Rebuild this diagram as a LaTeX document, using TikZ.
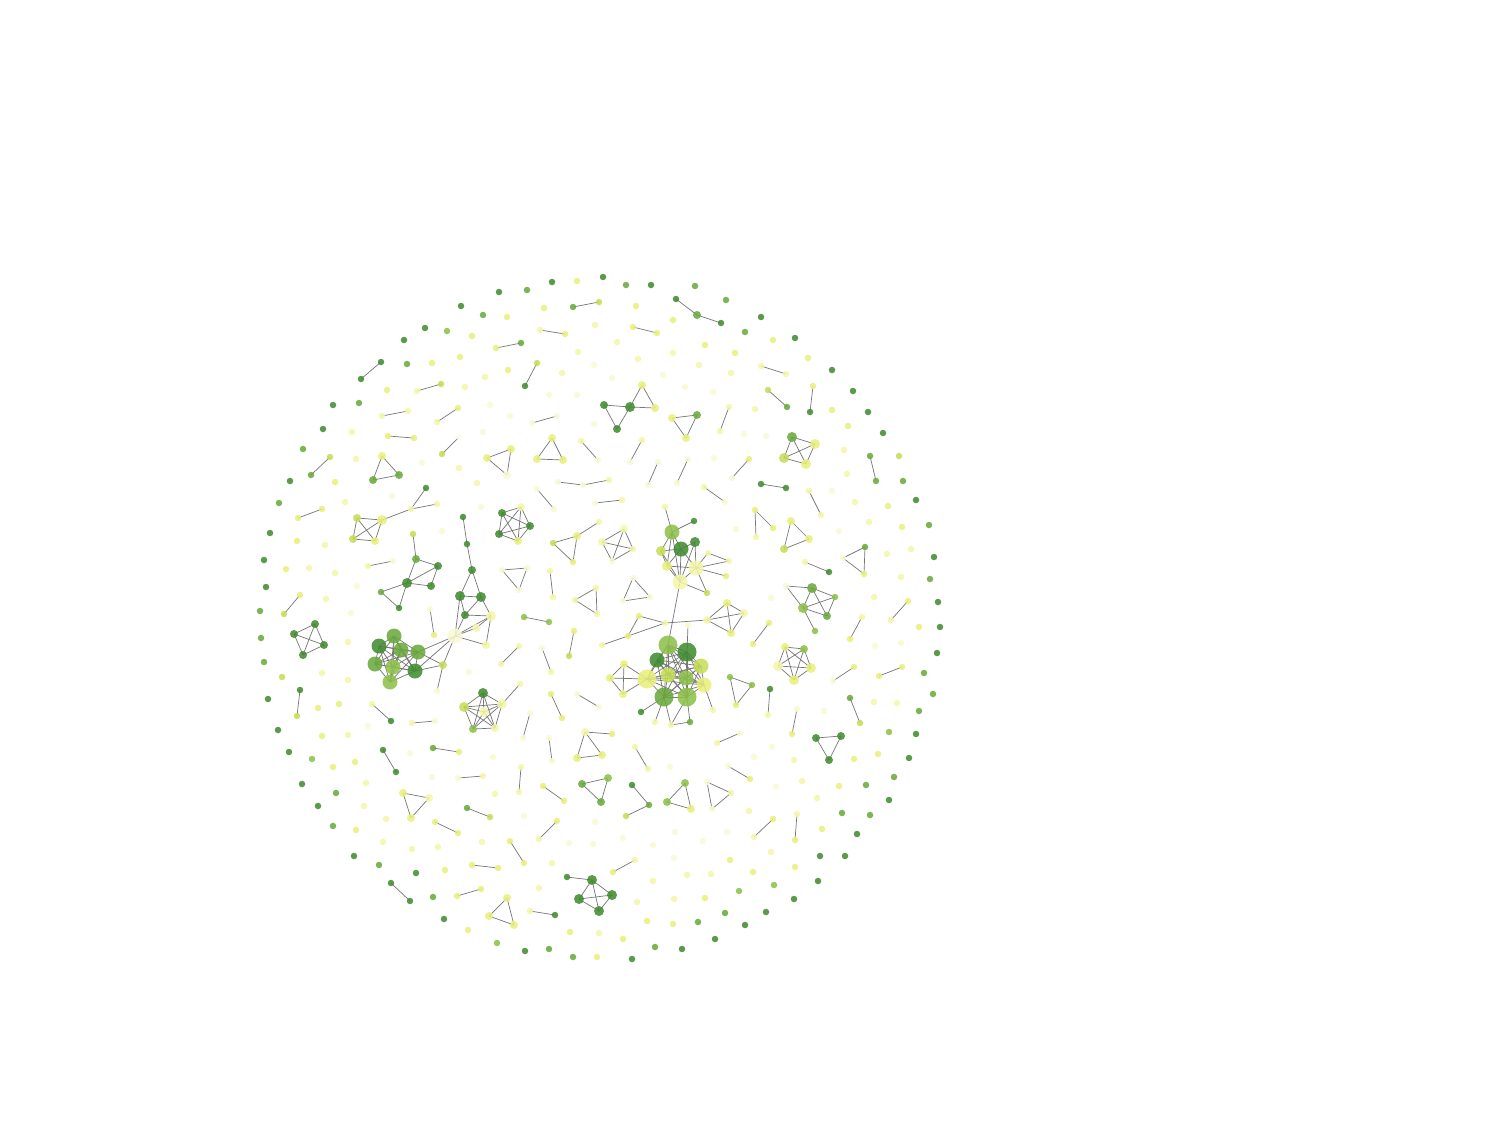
\documentclass[tikz,border=0pt]{standalone}
\usetikzlibrary{backgrounds}
\definecolor{cA}{HTML}{3E8A2E}
\definecolor{cB}{HTML}{68A83A}
\definecolor{cC}{HTML}{8CC048}
\definecolor{cD}{HTML}{C4DE54}
\definecolor{cE}{HTML}{E8F078}
\definecolor{cF}{HTML}{F4F6A8}
\definecolor{cG}{HTML}{FAFAD6}
\definecolor{cH}{HTML}{FCFCEE}
\definecolor{cL}{HTML}{767676}
\newcommand\mkclq[1]{\foreach \ua [count=\ui] in {#1}{\foreach \ub [count=\uj] in {#1}{\ifnum\uj>\ui\relax \draw[edge] (p\ua.center) -- (p\ub.center);\fi}}}
\begin{document}
\begin{tikzpicture}[x=1pt,y=-1pt,
  nd/.style={circle,inner sep=0pt,fill opacity=0.86},
  nA/.style={nd,fill=cA}, nB/.style={nd,fill=cB}, nC/.style={nd,fill=cC},
  nD/.style={nd,fill=cD}, nE/.style={nd,fill=cE}, nF/.style={nd,fill=cF},
  nG/.style={nd,fill=cG}, nH/.style={nd,fill=cH},
  s0/.style={minimum size=6.5pt}, s1/.style={minimum size=8pt},
  s2/.style={minimum size=10pt}, s3/.style={minimum size=15pt},
  s4/.style={minimum size=19pt},
  edge/.style={draw=cL,line width=0.7pt}]
\useasboundingbox (0,0) rectangle (1510,1120);
\foreach \xa/\ya/\ca/\sa in {
461/306/A/0, 483/315/B/0, 425/328/A/0, 447/331/C/0, 472/336/E/0, 404/340/A/0, 381/362/A/0, 361/379/A/0, 407/364/B/0, 432/363/E/0, 460/357/E/0, 485/377/F/0, 441/384/D/0, 417/391/F/0, 465/387/F/0, 387/390/E/0, 333/405/A/0, 359/403/B/0, 408/411/F/0, 382/416/F/0, 458/408/E/0, 437/422/F/0, 483/432/G/0, 323/429/A/0, 352/432/F/0, 388/436/E/0, 414/438/E/0, 459/437/H/0, 442/454/D/0, 303/449/B/0, 330/457/D/0, 311/475/B/0, 356/459/F/0, 382/456/E/1, 373/480/B/1, 399/475/B/1, 422/463/G/0, 459/468/F/0, 290/481/A/0, 335/482/E/0, 477/483/F/0, 426/488/A/0, 279/503/B/0, 345/502/F/0, 392/496/G/0, 437/504/F/0,
499/292/A/0, 527/290/B/0, 552/282/A/0, 577/281/E/0, 603/277/A/0, 626/285/B/0, 651/285/A/0, 695/286/B/0, 676/299/A/0, 697/315/B/1, 721/323/A/0, 726/300/B/0, 507/317/E/0, 544/308/E/0, 573/307/B/0, 599/302/D/0, 636/306/E/0, 595/325/F/0, 633/327/E/0, 657/333/E/0, 673/320/E/0, 540/330/F/0, 565/334/E/0, 496/348/E/0, 521/343/B/0, 617/342/F/0, 705/345/E/0, 578/352/F/0, 673/353/F/0, 537/363/D/0, 525/386/A/0, 508/370/E/0, 562/373/F/0, 594/365/G/0, 638/359/F/0, 699/365/F/0, 663/375/G/0, 612/378/G/0, 685/387/G/0, 713/392/G/0, 549/395/G/0, 577/395/G/0, 604/405/A/1, 630/407/A/2, 617/429/A/1, 642/385/E/1, 655/408/E/1, 490/405/G/0, 510/416/G/0, 532/423/G/0, 557/416/G/0, 594/424/G/0, 672/418/E/1, 697/415/B/1, 686/438/E/1, 720/431/F/0, 729/407/F/0, 552/438/E/1, 537/459/E/1, 563/460/E/1, 487/458/E/1, 511/449/E/1, 507/475/G/1, 581/441/F/0, 598/460/G/0, 642/440/F/0, 630/462/G/0, 658/462/G/0, 648/485/G/0, 688/459/G/0, 677/483/G/0, 714/458/G/0, 558/482/G/0, 583/485/G/0, 609/480/F/0, 537/489/G/0, 554/509/G/0, 595/503/G/0, 622/500/F/0, 704/487/F/0, 725/502/G/0,
761/317/A/0, 745/332/B/0, 773/340/E/0, 795/338/A/0, 735/353/E/0, 808/358/E/0, 731/373/F/0, 761/366/F/0, 786/374/F/0, 832/370/A/0, 768/390/D/0, 787/407/B/0, 813/386/E/0, 810/412/A/0, 853/391/A/0, 832/410/E/0, 868/412/A/0, 755/409/F/0, 848/426/E/0, 883/433/A/0, 744/434/G/0, 766/436/G/0, 792/437/B/2, 815/444/E/2, 784/458/D/2, 806/464/E/2, 844/450/F/0, 870/456/B/0, 876/481/B/0, 899/456/D/0, 749/459/E/0, 732/478/G/0, 847/474/F/0, 903/481/B/0, 761/484/A/0, 786/488/A/0, 809/491/F/0, 832/491/G/0, 916/500/A/0, 855/502/F/0,
298/518/E/0, 322/509/E/0, 357/518/D/1, 382/520/E/2, 353/539/D/1, 375/541/E/1, 411/509/F/0, 270/533/A/0, 297/541/E/0, 325/545/F/0, 442/531/G/0, 481/507/G/0, 264/560/A/0, 286/569/E/0, 309/568/F/0, 335/573/F/0, 368/566/F/0, 393/561/G/0, 266/587/A/0, 357/586/G/0, 300/595/E/0, 284/614/D/0, 326/599/F/0, 260/611/B/0, 351/613/G/0, 413/534/D/0, 416/559/B/1, 438/566/A/1, 407/583/A/2, 431/586/A/1, 381/592/B/0, 399/608/A/0, 315/624/A/1, 294/634/A/1, 324/645/A/1, 303/655/A/1, 261/638/B/0, 348/642/F/0, 430/609/G/0, 434/635/E/0, 463/517/A/0, 467/544/A/0, 472/570/A/1, 460/596/A/2, 481/597/A/2, 465/615/A/1, 455/636/G/3, 476/628/F/1, 486/645/F/1, 491/616/F/2, 379/646/A/3, 394/636/B/3, 401/650/B/3, 418/652/B/3, 375/664/B/3, 393/667/C/3, 415/671/A/3, 390/682/C/3, 443/665/D/1, 437/691/G/0, 264/662/B/0, 282/677/D/0, 322/673/F/0, 348/680/F/0, 469/672/G/0, 300/690/A/0, 297/716/D/0, 268/699/A/0, 318/708/E/0, 339/704/E/0, 372/704/F/0, 391/721/A/0, 412/723/F/0, 435/721/G/0, 278/730/A/0, 322/736/E/0, 348/735/F/0, 368/726/G/0, 483/693/A/2, 464/707/D/2, 484/712/F/2, 473/729/C/1, 502/704/F/2, 495/728/F/1,
502/513/A/1, 521/507/F/1, 530/526/A/1, 499/534/A/1, 518/541/E/1, 599/522/F/0, 577/536/E/1, 553/543/D/0, 573/562/E/0, 624/529/F/1, 602/542/F/1, 633/549/F/0, 612/561/G/0, 665/507/F/0, 672/532/C/3, 694/521/A/0, 695/542/A/2, 681/549/A/3, 661/551/D/2, 667/566/E/2, 696/568/F/3, 680/582/F/3, 708/553/F/0, 707/593/D/0, 729/561/F/0, 726/576/E/0, 639/616/E/0, 628/636/E/0, 602/645/F/0, 665/623/F/0, 707/620/F/1, 727/603/E/1, 744/613/F/1, 731/633/E/1, 688/625/G/0, 668/645/C/4, 687/652/A/4, 657/660/A/3, 701/666/D/3, 668/675/D/3, 686/678/C/3, 647/679/E/4, 704/685/E/3, 664/697/B/4, 687/697/C/4, 624/664/E/1, 610/678/E/1, 623/694/E/1, 641/712/A/0, 655/722/F/0, 671/725/F/0, 690/722/B/0, 713/710/F/0, 502/570/G/0, 527/568/G/0, 519/590/G/0, 550/571/F/0, 553/597/F/0, 596/588/F/0, 575/600/F/0, 597/614/F/0, 633/578/G/0, 623/601/G/0, 650/597/G/0, 524/617/C/0, 549/622/C/0, 574/631/E/0, 569/656/D/0, 519/646/F/0, 501/664/F/0, 542/648/G/0, 551/672/F/0, 520/684/F/0, 551/694/E/0, 562/718/E/0, 577/694/G/0, 599/707/G/0, 530/713/G/0, 523/738/G/0, 585/732/F/1, 612/734/E/0,
821/515/F/0, 888/506/E/0, 755/510/E/0, 756/537/F/0, 773/528/E/0, 736/529/G/0, 791/521/E/1, 809/539/E/1, 784/549/D/1, 869/522/F/0, 902/527/E/0, 929/525/B/0, 839/531/G/0, 865/547/B/0, 843/558/G/0, 864/574/E/0, 887/554/F/0, 911/549/F/0, 934/557/A/0, 805/562/F/0, 829/572/A/0, 901/577/F/0, 930/579/B/0, 786/586/G/0, 812/588/B/2, 835/597/C/0, 803/608/C/2, 827/616/B/1, 815/631/C/0, 771/598/G/0, 874/597/F/0, 908/601/E/0, 891/620/F/0, 938/602/A/0, 769/623/E/0, 753/644/E/0, 862/617/F/0, 850/639/E/0, 919/627/E/0, 940/627/A/0, 875/646/G/0, 901/643/G/0, 937/653/A/0, 785/647/E/1, 804/649/C/1, 778/666/F/2, 811/668/E/2, 794/680/E/2, 730/677/C/0, 752/685/C/0, 736/705/E/0, 770/689/A/0, 768/715/F/0, 854/667/E/0, 833/681/G/0, 902/667/E/0, 879/676/E/0, 924/673/B/0, 933/694/B/0, 874/702/F/0, 897/703/F/0, 919/711/B/0, 850/698/B/0, 860/723/D/0, 797/709/G/0, 792/734/E/0, 824/711/G/0, 889/732/C/0, 916/734/A/0, 816/738/A/1, 841/736/A/1, 829/760/A/1, 740/733/G/0, 717/743/F/0,
289/752/A/0, 383/750/A/0, 396/772/A/0, 410/753/G/0, 433/748/B/0, 459/752/E/0, 312/759/C/0, 333/767/E/0, 355/762/E/0, 458/778/G/0, 483/776/F/0, 432/777/G/0, 302/784/A/0, 336/793/B/0, 366/783/F/0, 403/793/E/1, 429/798/F/1, 411/818/E/1, 318/806/A/0, 364/806/F/0, 467/808/B/0, 490/817/D/0, 386/819/F/0, 333/826/B/0, 356/830/E/0, 435/822/E/0, 458/833/E/0, 383/842/F/0, 412/849/F/0, 438/847/F/0, 482/842/F/0, 354/856/A/0, 379/865/B/0, 416/873/A/0, 445/870/E/0, 472/865/E/0, 498/868/E/0, 391/883/A/0, 410/901/A/0, 433/897/B/0, 457/896/E/0, 481/889/E/0, 444/919/A/0, 468/930/E/0, 507/898/E/1, 489/916/E/1, 514/925/E/1,
549/738/G/0, 552/761/G/0, 577/758/E/1, 602/755/E/1, 635/747/F/0, 648/769/F/0, 670/767/G/0, 493/757/G/0, 521/767/F/0, 519/792/F/0, 582/784/B/1, 608/778/C/1, 601/802/B/1, 632/785/A/0, 649/805/B/0, 626/816/D/0, 685/783/C/1, 667/802/C/1, 691/809/E/1, 707/782/G/0, 712/809/G/0, 731/793/F/0, 543/786/E/0, 564/801/E/0, 495/794/F/0, 524/816/G/0, 557/821/E/0, 539/839/F/0, 595/822/G/0, 675/832/G/0, 569/843/G/0, 593/844/G/0, 623/838/G/0, 653/845/G/0, 703/841/G/0, 510/841/E/0, 524/863/E/0, 635/860/F/0, 613/872/E/0, 674/858/G/0, 552/863/F/0, 653/881/F/0, 687/875/F/0, 711/874/F/0, 539/888/F/0, 567/877/A/0, 592/880/A/2, 579/899/A/2, 612/895/A/2, 599/911/A/2, 637/902/F/0, 674/899/F/0, 705/898/E/0, 725/913/B/0, 530/911/F/0, 555/915/A/0, 647/921/E/0, 673/924/E/0, 698/922/B/0, 570/932/E/0, 599/933/F/0, 623/939/E/0, 497/943/C/0, 655/947/B/0, 682/949/A/0, 715/939/A/0, 525/951/A/0, 549/949/B/0, 573/957/B/0, 597/957/E/0, 632/959/A/0,
772/747/G/0, 754/757/G/0, 794/760/F/0, 854/759/E/0, 878/754/E/0, 909/758/A/0, 728/766/G/0, 750/779/E/0, 894/777/B/0, 802/781/F/0, 776/787/G/0, 839/786/E/0, 866/785/B/0, 817/798/F/0, 889/800/A/0, 749/811/F/0, 773/819/E/0, 754/837/F/0, 797/814/F/0, 795/840/E/0, 842/813/B/0, 870/815/B/0, 822/829/E/0, 857/834/A/0, 727/832/G/0, 771/852/F/0, 820/856/A/0, 845/856/A/0, 730/860/E/0, 795/867/E/0, 753/872/E/0, 818/881/A/0, 774/885/C/0, 739/891/C/0, 794/899/A/0, 766/912/A/0, 745/925/A/0}
  \node[n\ca,s\sa] (p\xa x\ya) at (\xa,\ya) {};
\begin{pgfonlayer}{background}
\fill[white] (0,0) rectangle (1510,1120);
\foreach \ea/\eb in {
381x362/361x379, 441x384/417x391, 408x411/382x416, 458x408/437x422, 388x436/414x438, 459x437/442x454, 330x457/311x475, 426x488/411x509, 411x509/437x504, 382x520/411x509,
676x299/697x315, 697x315/721x323, 573x307/599x302, 633x327/657x333, 540x330/565x334, 496x348/521x343, 537x363/525x386, 532x423/557x416, 729x407/720x431, 581x441/598x460, 642x440/630x462, 658x462/648x485, 688x459/677x483, 558x482/583x485, 583x485/609x480, 537x489/554x509, 595x503/622x500, 704x487/725x502,
761x366/786x374, 768x390/787x407, 813x386/810x412, 870x456/876x481, 749x459/732x478, 761x484/786x488, 809x491/821x515,
298x518/322x509, 368x566/393x561, 300x595/284x614, 430x609/434x635,
413x534/416x559, 416x559/438x566, 416x559/407x583, 438x566/407x583, 438x566/431x586, 407x583/431x586, 381x592/407x583, 381x592/399x608, 399x608/407x583,
463x517/467x544, 467x544/472x570, 472x570/460x596, 472x570/481x597, 460x596/481x597, 460x596/465x615, 481x597/465x615, 460x596/455x636, 481x597/491x616, 465x615/491x616, 455x636/476x628, 455x636/491x616, 455x636/486x645, 476x628/491x616, 486x645/491x616, 465x615/455x636,
443x665/418x652, 443x665/415x671, 443x665/455x636, 418x652/455x636, 415x671/455x636, 443x665/437x691,
300x690/297x716, 372x704/391x721, 412x723/435x721, 520x684/502x704,
599x522/577x536, 577x536/553x543, 577x536/573x562, 553x543/573x562,
665x507/672x532, 672x532/694x521, 672x532/681x549, 672x532/661x551, 672x532/667x566, 672x532/680x582, 695x542/681x549, 695x542/696x568, 695x542/680x582, 681x549/661x551, 681x549/667x566, 681x549/680x582, 681x549/696x568, 661x551/667x566, 661x551/680x582, 667x566/680x582, 667x566/696x568, 696x568/680x582, 696x568/708x553, 696x568/729x561, 696x568/726x576, 696x568/707x593, 708x553/729x561, 680x582/707x593,
680x582/668x645, 639x616/665x623, 639x616/628x636, 628x636/665x623, 602x645/628x636, 665x623/707x620, 688x625/687x652,
624x664/610x678, 610x678/623x694, 624x664/623x694, 610x678/647x679, 624x664/647x679, 623x694/647x679,
641x712/664x697, 655x722/664x697, 671x725/687x697, 671x725/664x697, 690x722/687x697, 690x722/671x725, 713x710/704x685,
550x571/553x597, 524x617/549x622, 574x631/569x656, 519x646/501x664, 542x648/551x672, 551x694/562x718, 577x694/599x707, 530x713/523x738, 585x732/612x734,
755x510/756x537, 755x510/773x528, 805x562/829x572,
786x586/812x588, 786x586/803x608, 812x588/803x608, 812x588/835x597, 812x588/827x616, 803x608/835x597, 803x608/827x616, 835x597/827x616, 803x608/815x631,
908x601/891x620, 769x623/753x644, 862x617/850x639, 770x689/768x715, 854x667/833x681, 902x667/879x676, 850x698/860x723, 797x709/792x734, 740x733/717x743,
383x750/396x772, 433x748/459x752, 458x778/483x776, 467x808/490x817, 435x822/458x833, 472x865/498x868, 391x883/410x901, 457x896/481x889,
549x738/552x761, 635x747/648x769, 521x767/519x792, 632x785/649x805, 649x805/626x816, 543x786/564x801, 557x821/539x839, 510x841/524x863, 635x860/613x872,
567x877/592x880, 592x880/579x899, 592x880/599x911, 592x880/612x895, 579x899/612x895, 579x899/599x911, 612x895/599x911, 530x911/555x915,
728x766/750x779, 773x819/754x837, 797x814/795x840}
  \draw[edge] (p\ea.center) -- (p\eb.center);
\mkclq{382x456,373x480,399x475}
\mkclq{672x418,697x415,686x438}
\mkclq{552x438,537x459,563x460}
\mkclq{487x458,511x449,507x475}
\mkclq{792x437,815x444,784x458,806x464}
\mkclq{357x518,382x520,353x539,375x541}
\mkclq{315x624,294x634,324x645,303x655}
\mkclq{379x646,394x636,401x650,418x652,375x664,393x667,415x671,390x682}
\mkclq{483x693,464x707,484x712,473x729,502x704,495x728}
\mkclq{502x513,521x507,530x526,499x534,518x541}
\mkclq{624x529,602x542,633x549,612x561}
\mkclq{707x620,727x603,744x613,731x633}
\mkclq{668x645,687x652,657x660,701x666,668x675,686x678,647x679,704x685,664x697,687x697}
\mkclq{502x570,527x568,519x590}
\mkclq{596x588,575x600,597x614}
\mkclq{633x578,623x601,650x597}
\mkclq{585x732,577x758,602x755}
\mkclq{791x521,809x539,784x549}
\mkclq{865x547,843x558,864x574}
\mkclq{785x647,804x649,778x666,811x668,794x680}
\mkclq{730x677,752x685,736x705}
\mkclq{816x738,841x736,829x760}
\mkclq{403x793,429x798,411x818}
\mkclq{507x898,489x916,514x925}
\mkclq{582x784,608x778,601x802}
\mkclq{685x783,667x802,691x809}
\mkclq{707x782,712x809,731x793}
\mkclq{604x405,630x407,617x429}
\mkclq{630x407,642x385,655x408}
\end{pgfonlayer}
\end{tikzpicture}
\end{document}
